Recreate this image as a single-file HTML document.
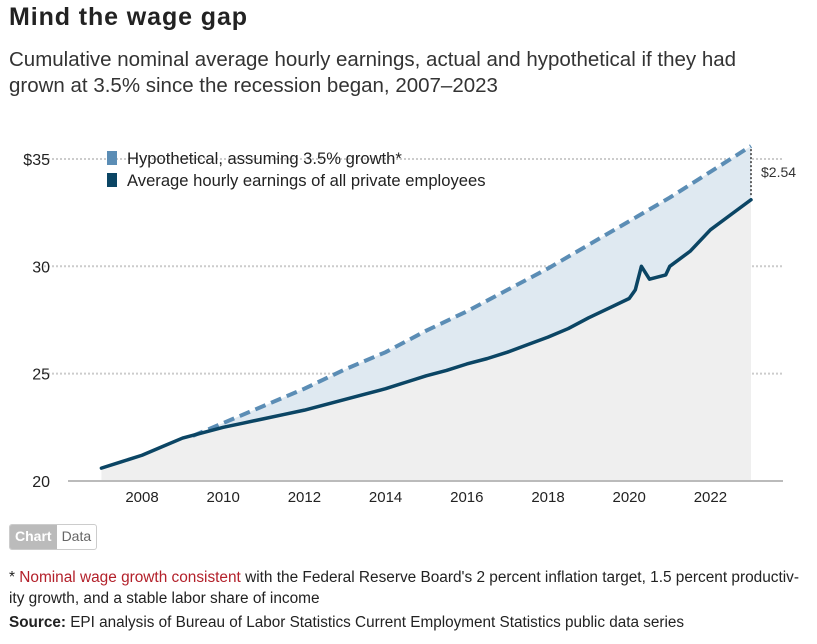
<!DOCTYPE html>
<html><head><meta charset="utf-8"><style>
body{margin:0;width:817px;height:644px;background:#fff;font-family:"Liberation Sans",sans-serif;color:#222;overflow:hidden;position:relative}
.t{position:absolute;white-space:nowrap}
</style></head><body>
<div class="t" style="left:9px;top:3px;font-size:25px;font-weight:bold;letter-spacing:0.9px">Mind the wage gap</div>
<div class="t" style="left:9px;top:47px;font-size:20.5px;line-height:26px;color:#333">Cumulative nominal average hourly earnings, actual and hypothetical if they had<br>grown at 3.5% since the recession began, 2007–2023</div>
<svg id="c" width="817" height="520" style="position:absolute;left:0;top:0"></svg>
<div style="position:absolute;left:9px;top:524px;height:24px;border:1px solid #ccc;border-radius:3px;display:flex;font-size:14px;overflow:hidden">
<div style="background:#bbb;color:#fff;padding:3px 5px;font-weight:bold">Chart</div>
<div style="padding:3px 5px;color:#666">Data</div></div>
<div class="t" style="left:9px;top:567px;font-size:15.4px;line-height:21px;color:#222">* <span style="color:#b3202a">Nominal wage growth consistent</span> with the Federal Reserve Board's 2 percent inflation target, 1.5 percent productiv-<br>ity growth, and a stable labor share of income</div>
<div class="t" style="left:9px;top:614px;font-size:15.3px;color:#222"><b>Source:</b> EPI analysis of Bureau of Labor Statistics Current Employment Statistics public data series</div>
<script>
const actualYears=[2007,2007.5,2008,2008.5,2009,2009.5,2010,2010.5,2011,2011.5,2012,2012.5,2013,2013.5,2014,2014.5,2015,2015.5,2016,2016.5,2017,2017.5,2018,2018.5,2019,2019.5,2020,2020.15,2020.3,2020.5,2020.9,2021,2021.5,2022,2022.5,2023];
const actualValues=[20.6,20.9,21.2,21.6,22.0,22.25,22.5,22.7,22.9,23.1,23.3,23.55,23.8,24.05,24.3,24.6,24.9,25.15,25.45,25.7,26.0,26.35,26.7,27.1,27.6,28.05,28.5,28.9,30.0,29.4,29.6,30.0,30.7,31.7,32.4,33.1];
const hypoYears=[2009.25,2010,2011,2012,2013,2014,2015,2016,2017,2018,2019,2020,2021,2022,2023];
const hypoValues=[22.1,22.7,23.5,24.3,25.2,26.0,27.0,27.9,28.9,29.9,31.0,32.1,33.2,34.4,35.6];
const yTicks=[20,25,30,35];
const yTickLabels=["20","25","30","$35"];
const xTicks=[2008,2010,2012,2014,2016,2018,2020,2022];
const gapLabel="$2.54";
const NS="http://www.w3.org/2000/svg";
const svg=document.getElementById('c');
const X=y=>142+(y-2008)*40.6;
const Y=v=>481-(v-20)*21.47;
function mk(t,a){const e=document.createElementNS(NS,t);for(const k in a)e.setAttribute(k,a[k]);svg.appendChild(e);return e;}
function interp(xs,vs,x){for(let i=0;i<xs.length-1;i++){if(x>=xs[i]&&x<=xs[i+1]){return vs[i]+(vs[i+1]-vs[i])*(x-xs[i])/(xs[i+1]-xs[i]);}}return vs[vs.length-1];}
yTicks.forEach((v,i)=>{
 if(i>0){const g=mk('line',{x1:44,x2:783,y1:Y(v),y2:Y(v),stroke:'#ccc','stroke-width':2,'stroke-dasharray':'2,2'});
 
 }
 const t=mk('text',{x:50,y:Y(v)+6,'text-anchor':'end','font-size':16,fill:'#222'});t.textContent=yTickLabels[i];
 
 
});
let d='M'+X(actualYears[0])+','+Y(20);
actualYears.forEach((y,i)=>d+=' L'+X(y)+','+Y(actualValues[i]));
d+=' L'+X(2023)+','+Y(20)+'Z';
const ga=mk('path',{d:d,fill:'#efefef'});


let d2='M'+X(hypoYears[0])+','+Y(hypoValues[0]);
hypoYears.forEach((y,i)=>d2+=' L'+X(y)+','+Y(hypoValues[i]));
for(let i=actualYears.length-1;i>=0;i--){if(actualYears[i]>=hypoYears[0])d2+=' L'+X(actualYears[i])+','+Y(actualValues[i]);}
d2+=' L'+X(hypoYears[0])+','+Y(interp(actualYears,actualValues,hypoYears[0]))+'Z';
const gp=mk('path',{d:d2,fill:'#dfe9f1'});


const base=mk('line',{x1:68,x2:783,y1:481,y2:481,stroke:'#bbb','stroke-width':2});


xTicks.forEach(y=>{const t=mk('text',{x:X(y),y:502,'text-anchor':'middle','font-size':15,fill:'#222'});t.textContent=y;
 
 });
const hl=mk('polyline',{points:hypoYears.map((y,i)=>X(y)+','+Y(hypoValues[i])).join(' '),fill:'none',stroke:'#5b8db5','stroke-width':4,'stroke-dasharray':'11,6'});


const al=mk('polyline',{points:actualYears.map((y,i)=>X(y)+','+Y(actualValues[i])).join(' '),fill:'none',stroke:'#0b4564','stroke-width':3.5,'stroke-linejoin':'round','stroke-linecap':'round'});


const gl=mk('line',{x1:X(2023),x2:X(2023),y1:Y(hypoValues[hypoValues.length-1])+3,y2:Y(actualValues[actualValues.length-1])-3,stroke:'#333','stroke-width':1.5,'stroke-dasharray':'2,2'});


const gt=mk('text',{x:761,y:177,'font-size':14,fill:'#333'});gt.textContent=gapLabel;


[["#5b8db5","Hypothetical, assuming 3.5% growth*",151],["#0b4564","Average hourly earnings of all private employees",173]].forEach(l=>{
 const r=mk('rect',{x:107,y:l[2],width:10,height:14,fill:l[0]});
 
 
 const t=mk('text',{x:127,y:l[2]+13,'font-size':16.6,fill:'#222'});t.textContent=l[1];
 
 
});
</script>
</body></html>
